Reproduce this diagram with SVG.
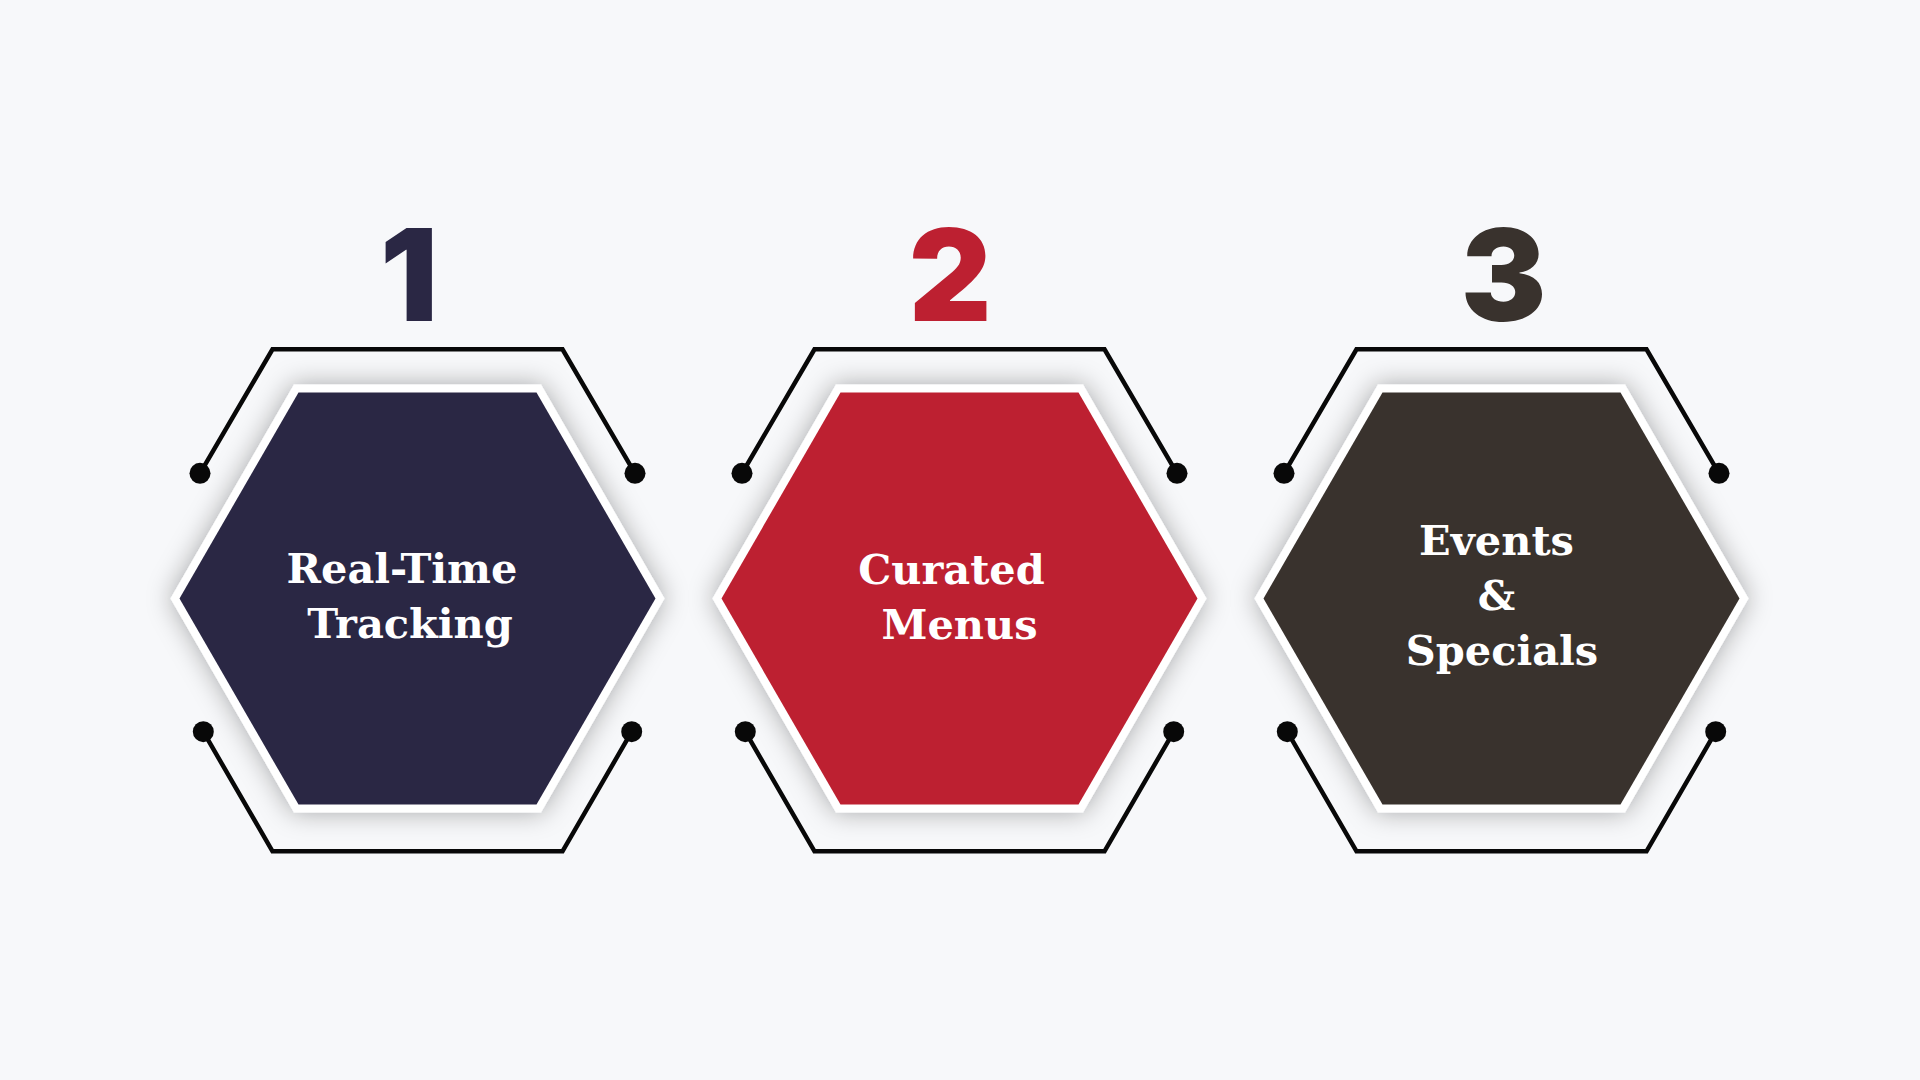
<svg xmlns="http://www.w3.org/2000/svg" xmlns:xlink="http://www.w3.org/1999/xlink" width="1920" height="1080" viewBox="0 0 1920 1080">
  <style>
    .frame { fill: none; stroke: #080808; stroke-width: 4.5; stroke-linejoin: miter; }
    .dot { fill: #080808; }
    .num { font-family: Inter, "DejaVu Sans", sans-serif; font-weight: 900; font-size: 128px; text-anchor: middle; }
    .lbl { font-family: "DejaVu Serif", "Liberation Serif", serif; font-weight: bold; font-size: 41.5px; fill: #ffffff; text-anchor: middle; }
  </style>
  <defs>
    <filter id="sh" x="-30%" y="-30%" width="160%" height="160%">
      <feDropShadow dx="0" dy="0" stdDeviation="13" flood-color="#000000" flood-opacity="0.33"/>
    </filter>
    <polygon id="hexW" points="-123.5,-213.9 123.5,-213.9 247,0 123.5,213.9 -123.5,213.9 -247,0"/>
    <polygon id="hexC" points="-119,-206.1 119,-206.1 238,0 119,206.1 -119,206.1 -238,0"/>
    <g id="frame">
      <path class="frame" d="M -217.5,-127 L -145,-251 L 145,-251 L 217.5,-127"/>
      <path class="frame" d="M -214.2,131.4 L -145,251 L 145,251 L 214.2,131.4"/>
      <circle class="dot" cx="-217.5" cy="-127" r="10.5"/>
      <circle class="dot" cx="217.5" cy="-127" r="10.5"/>
      <circle class="dot" cx="-214.2" cy="131.4" r="10.5"/>
      <circle class="dot" cx="214.2" cy="131.4" r="10.5"/>
    </g>
  </defs>
  <rect x="0" y="0" width="1920" height="1080" fill="#f7f8fa"/>

  <g id="node-1">
    <use xlink:href="#frame" href="#frame" transform="translate(417.5,600.3)"/>
    <use xlink:href="#hexW" href="#hexW" transform="translate(417.5,598.5)" fill="#ffffff" filter="url(#sh)"/>
    <use xlink:href="#hexC" href="#hexC" transform="translate(417.5,598.5)" fill="#2a2744"/>
    <text class="num" x="409" y="321" fill="#2a2744">1</text>
    <text class="lbl" x="402" y="583">Real-Time</text>
    <text class="lbl" x="410" y="638">Tracking</text>
  </g>

  <g id="node-2">
    <use xlink:href="#frame" href="#frame" transform="translate(959.5,600.3)"/>
    <use xlink:href="#hexW" href="#hexW" transform="translate(959.5,598.5)" fill="#ffffff" filter="url(#sh)"/>
    <use xlink:href="#hexC" href="#hexC" transform="translate(959.5,598.5)" fill="#bd2031"/>
    <text class="num" x="950" y="321" fill="#bd2031">2</text>
    <text class="lbl" x="951.5" y="584">Curated</text>
    <text class="lbl" x="959.5" y="639">Menus</text>
  </g>

  <g id="node-3">
    <use xlink:href="#frame" href="#frame" transform="translate(1501.5,600.3)"/>
    <use xlink:href="#hexW" href="#hexW" transform="translate(1501.5,598.5)" fill="#ffffff" filter="url(#sh)"/>
    <use xlink:href="#hexC" href="#hexC" transform="translate(1501.5,598.5)" fill="#39322d"/>
    <text class="num" x="1503.5" y="321" fill="#39322d">3</text>
    <text class="lbl" x="1496.5" y="555">Events</text>
    <text class="lbl" x="1496.5" y="610">&amp;</text>
    <text class="lbl" x="1502" y="665">Specials</text>
  </g>
</svg>
